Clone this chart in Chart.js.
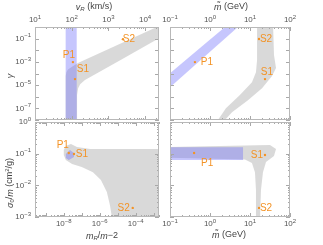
<!DOCTYPE html>
<html>
<head>
<meta charset="utf-8">
<script src="https://cdn.jsdelivr.net/npm/chart.js@4/dist/chart.umd.min.js"></script>
<style>
html, body { margin: 0; padding: 0; background: #fff; }
#wrap { position: relative; width: 323px; height: 245px; }
canvas { position: absolute; left: 0; top: 0; }
</style>
</head>
<body>
<div id="wrap">
  <canvas id="c1" width="323" height="245"></canvas>
  <canvas id="c2" width="323" height="245"></canvas>
  <canvas id="c3" width="323" height="245"></canvas>
  <canvas id="c4" width="323" height="245"></canvas>
</div>
<script>
// point names, same in every panel
const ptNames = ['P1', 'S1', 'S2'];

// top left: gamma against v_R (km/s)
const vrGrayX = [68.5, 68.5, 72, 79, 102, 148, 21000, 40000, 40000, 2100, 230, 170, 150, 140, 140];
const vrGrayY = [1e-9, 6e-5, 1.3e-4, 2.2e-4, 3.8e-4, 8e-4, 1, 1, 0.27, 1.4e-3, 2.7e-5, 1.2e-5, 5.5e-6, 1.4e-6, 1e-9];
const vrBlueX = [68.5, 137, 137, 68.5];
const vrBlueY = [1e-9, 1e-9, 10, 10];
const vrPtX = [108, 123, 2500];
const vrPtY = [9.6e-4, 3.3e-5, 0.09];

// top right: gamma against m~ (GeV)
const mgGrayX = [15, 37.6, 39.8, 44.7, 35.5, 20, 8.9, 3.55, 2.37, 1.58, 2.5, 5.6, 11.2, 14.1, 15];
const mgGrayY = [2, 2, 3.9e-3, 2.9e-4, 6e-5, 5.5e-6, 5.1e-7, 4.7e-8, 1e-8, 1e-8, 1.05e-7, 1.4e-6, 1.8e-5, 1.3e-4, 1.4e-3];
const mgBlueX = [0.1, 2.37, 5.0, 0.1];
const mgBlueY = [1.07e-4, 1, 1, 6.7e-6];
const mgPtX = [0.42, 23.7, 16.8];
const mgPtY = [9.6e-4, 3.3e-5, 0.093];

// bottom left: sigma0/m (cm^2/g) against m_R/m - 2
const mrGrayX = [1.0e-8, 1.3e-8, 2.5e-8, 5.4e-8, 2.9e-7, 3e-3, 3e-3, 4.9e-6, 3.7e-6, 2.5e-6, 1.17e-6, 4.2e-7, 1.0e-7, 2.9e-8, 1.3e-8, 1.0e-8];
const mrGrayY = [0.131, 0.175, 0.202, 0.163, 0.141, 0.141, 9e-4, 9e-4, 2.4e-3, 6.2e-3, 1.48e-2, 2.6e-2, 3.8e-2, 4.7e-2, 6.3e-2, 9.1e-2];
const mrBlueX = [1.3e-8, 2.2e-8, 3.7e-8, 3.7e-8, 1.9e-8, 1.3e-8];
const mrBlueY = [9.8e-2, 0.131, 0.105, 0.079, 0.063, 0.073];
const mrPtX = [1.9e-8, 3.7e-8, 6.9e-5];
const mrPtY = [0.105, 0.098, 1.94e-3];

// bottom right: sigma0/m (cm^2/g) against m~ (GeV)
const msGrayX = [0.08, 31.6, 44.7, 39.8, 25.1, 21.1, 18.8, 17.8, 14.1, 14.1, 13.3, 11.2, 7.5, 0.08];
const msGrayY = [0.16, 0.188, 0.141, 0.085, 0.055, 0.026, 7.1e-3, 9e-4, 9e-4, 7.1e-3, 0.026, 0.051, 0.066, 0.075];
const msBlueX = [0.08, 6.7, 6.7, 0.08];
const msBlueY = [0.16, 0.16, 0.063, 0.063];
const msPtX = [0.4, 23.7, 16.8];
const msPtY = [0.105, 0.091, 1.94e-3];

// tick label exponents
const vrTickExp = [1, 2, 3, 4];
const mTickExp = [-1, 0, 1, 2];
const gammaTickExp = [-1, -3, -5, -7];
const mrTickExp = [-8, -6, -4];
const sigmaTickExp = [0, -1, -2, -3];

const FONT = '"Liberation Sans", Arial, sans-serif';
const ORANGE = '#f39326';
const GRAY = 'rgba(185,185,185,0.55)';
const BLUE = 'rgba(105,105,250,0.38)';

const pair = (xs, ys) => xs.map((x, i) => ({x: x, y: ys[i]}));

function drawPow(ctx, e, x, y, align) {
    const base = '10', ex = (e < 0 ? '\u2212' : '') + Math.abs(e);
    ctx.font = '8px ' + FONT;
    const wb = ctx.measureText(base).width;
    ctx.font = '6px ' + FONT;
    const we = ctx.measureText(ex).width;
    const x0 = align === 'right' ? x - wb - we : x - (wb + we) / 2;
    ctx.textAlign = 'left';
    ctx.textBaseline = 'middle';
    ctx.font = '8px ' + FONT;
    ctx.fillText(base, x0, y);
    ctx.font = '6px ' + FONT;
    ctx.fillText(ex, x0 + wb, y - 3);
}

function fontFor(s, size) {
    return (s.i ? 'italic ' : '') + (s.sub || s.sup ? Math.round(size * 0.7) : size) + 'px ' + FONT;
}

function drawRich(ctx, segs, x, y, size, rot) {
    ctx.save();
    ctx.translate(x, y);
    if (rot) ctx.rotate(-Math.PI / 2);
    ctx.textAlign = 'left';
    ctx.textBaseline = 'middle';
    let w = 0;
    segs.forEach(s => { ctx.font = fontFor(s, size); w += ctx.measureText(s.t).width; });
    let cx = -w / 2;
    segs.forEach(s => {
        ctx.font = fontFor(s, size);
        const dy = s.sub ? size * 0.3 : (s.sup ? -size * 0.35 : 0);
        ctx.fillText(s.t, cx, dy);
        cx += ctx.measureText(s.t).width;
    });
    ctx.restore();
}

function logTicks(scale, minor) {
    const out = [];
    const e0 = Math.floor(Math.log10(scale.min)), e1 = Math.ceil(Math.log10(scale.max));
    for (let e = e0; e <= e1; e++) {
        for (let m = 1; m <= 9; m++) {
            if (m > 1 && !minor) continue;
            const v = m * Math.pow(10, e);
            if (v >= scale.min * 0.999 && v <= scale.max * 1.001) out.push({v: v, major: m === 1});
        }
    }
    return out;
}

function makePanel(id, p) {
    const framePlugin = {
        id: 'frame' + id,
        afterDatasetsDraw(chart) {
            const ctx = chart.ctx;
            const meta = chart.getDatasetMeta(0);
            ctx.save();
            ctx.fillStyle = ORANGE;
            ctx.font = '10px ' + FONT;
            ctx.textAlign = 'center';
            ctx.textBaseline = 'middle';
            meta.data.forEach((pt, i) => {
                ctx.fillText(ptNames[i], pt.x + p.offs[i][0], pt.y + p.offs[i][1]);
            });
            ctx.restore();
        },
        afterDraw(chart) {
            const ctx = chart.ctx, a = chart.chartArea;
            const xs = chart.scales.x, ys = chart.scales.y;
            ctx.save();
            ctx.strokeStyle = '#a8a8a8';
            ctx.lineWidth = 1;
            const seg = (x1, y1, x2, y2) => { ctx.beginPath(); ctx.moveTo(x1, y1); ctx.lineTo(x2, y2); ctx.stroke(); };
            logTicks(xs, true).forEach(t => {
                const px = Math.round(xs.getPixelForValue(t.v)) + 0.5;
                const L = t.major ? 4 : 2;
                seg(px, a.top, px, a.top + L);
                seg(px, a.bottom, px, a.bottom - L);
            });
            logTicks(ys, p.yMinor).forEach(t => {
                const py = Math.round(ys.getPixelForValue(t.v)) + 0.5;
                const L = t.major ? 4 : 2;
                seg(a.left, py, a.left + L, py);
                seg(a.right, py, a.right - L, py);
            });
            ctx.strokeStyle = '#b8b8b8';
            ctx.strokeRect(a.left + 0.5, a.top + 0.5, a.right - a.left - 1, a.bottom - a.top - 1);

            ctx.fillStyle = '#555';
            p.xExp.forEach(e => drawPow(ctx, e, xs.getPixelForValue(Math.pow(10, e)), p.xLabY, 'center'));
            p.yExp.forEach(e => drawPow(ctx, e, a.left - 4, ys.getPixelForValue(Math.pow(10, e)), 'right'));

            ctx.fillStyle = '#444';
            if (p.xTitle) drawRich(ctx, p.xTitle, p.xTitlePos[0], p.xTitlePos[1], 9, false);
            if (p.yTitle) drawRich(ctx, p.yTitle, p.yTitlePos[0], p.yTitlePos[1], 9, true);
            ctx.restore();
        }
    };

    return new Chart(document.getElementById(id).getContext('2d'), {
        type: 'line',
        data: {
            datasets: [{
                data: pair(p.ptX, p.ptY),
                showLine: false,
                pointRadius: 1.2,
                pointBorderWidth: 0,
                pointBackgroundColor: ORANGE,
                clip: false
            }, {
                data: pair(p.blueX, p.blueY),
                fill: 'shape',
                backgroundColor: BLUE,
                borderColor: 'transparent',
                borderWidth: 0,
                pointRadius: 0,
                tension: 0
            }, {
                data: pair(p.grayX, p.grayY),
                fill: 'shape',
                backgroundColor: GRAY,
                borderColor: 'transparent',
                borderWidth: 0,
                pointRadius: 0,
                tension: 0
            }]
        },
        options: {
            responsive: false,
            animation: false,
            events: [],
            layout: { padding: { left: p.area[0], top: p.area[1], right: 323 - p.area[2], bottom: 245 - p.area[3] } },
            plugins: { legend: { display: false }, tooltip: { enabled: false } },
            scales: {
                x: { type: 'logarithmic', min: p.xMin, max: p.xMax, display: false },
                y: { type: 'logarithmic', min: p.yMin, max: p.yMax, display: false }
            }
        },
        plugins: [framePlugin]
    });
}

makePanel('c1', {
    area: [35, 27, 159, 120],
    xMin: 10, xMax: 2.4e4, yMin: 1e-8, yMax: 1,
    grayX: vrGrayX, grayY: vrGrayY, blueX: vrBlueX, blueY: vrBlueY,
    ptX: vrPtX, ptY: vrPtY,
    offs: [[-4, -7], [8, -10], [6, 0]],
    xExp: vrTickExp, xLabY: 20, yExp: gammaTickExp, yMinor: false,
    xTitle: [{t: 'v', i: 1}, {t: 'R', i: 1, sub: 1}, {t: ' (km/s)'}], xTitlePos: [94, 7],
    yTitle: [{t: '\u03b3', i: 1}], yTitlePos: [10, 76]
});

makePanel('c2', {
    area: [170, 27, 290, 120],
    xMin: 0.1, xMax: 100, yMin: 1e-8, yMax: 1,
    grayX: mgGrayX, grayY: mgGrayY, blueX: mgBlueX, blueY: mgBlueY,
    ptX: mgPtX, ptY: mgPtY,
    offs: [[12, 0], [2, -7], [7, 0]],
    xExp: mTickExp, xLabY: 20, yExp: [], yMinor: false,
    xTitle: [{t: 'm\u0303', i: 1}, {t: ' (GeV)'}], xTitlePos: [231, 7]
});

makePanel('c3', {
    area: [35, 122, 159, 217],
    xMin: 2.5e-10, xMax: 2e-3, yMin: 1e-3, yMax: 1,
    grayX: mrGrayX, grayY: mrGrayY, blueX: mrBlueX, blueY: mrBlueY,
    ptX: mrPtX, ptY: mrPtY,
    offs: [[-6, -8], [8, 0], [-9, 0]],
    xExp: mrTickExp, xLabY: 224, yExp: sigmaTickExp, yMinor: true,
    xTitle: [{t: 'm', i: 1}, {t: 'R', i: 1, sub: 1}, {t: '/'}, {t: 'm', i: 1}, {t: '\u22122'}], xTitlePos: [102, 236],
    yTitle: [{t: '\u03c3', i: 1}, {t: '0', sub: 1}, {t: '/'}, {t: 'm', i: 1}, {t: ' (cm'}, {t: '2', sup: 1}, {t: '/g)'}], yTitlePos: [10, 183]
});

makePanel('c4', {
    area: [170, 122, 290, 217],
    xMin: 0.1, xMax: 100, yMin: 1e-3, yMax: 1,
    grayX: msGrayX, grayY: msGrayY, blueX: msBlueX, blueY: msBlueY,
    ptX: msPtX, ptY: msPtY,
    offs: [[13, 10], [-8, 0], [7, 0]],
    xExp: mTickExp, xLabY: 224, yExp: [], yMinor: true,
    xTitle: [{t: 'm\u0303', i: 1}, {t: ' (GeV)'}], xTitlePos: [229, 235]
});
</script>
</body>
</html>
